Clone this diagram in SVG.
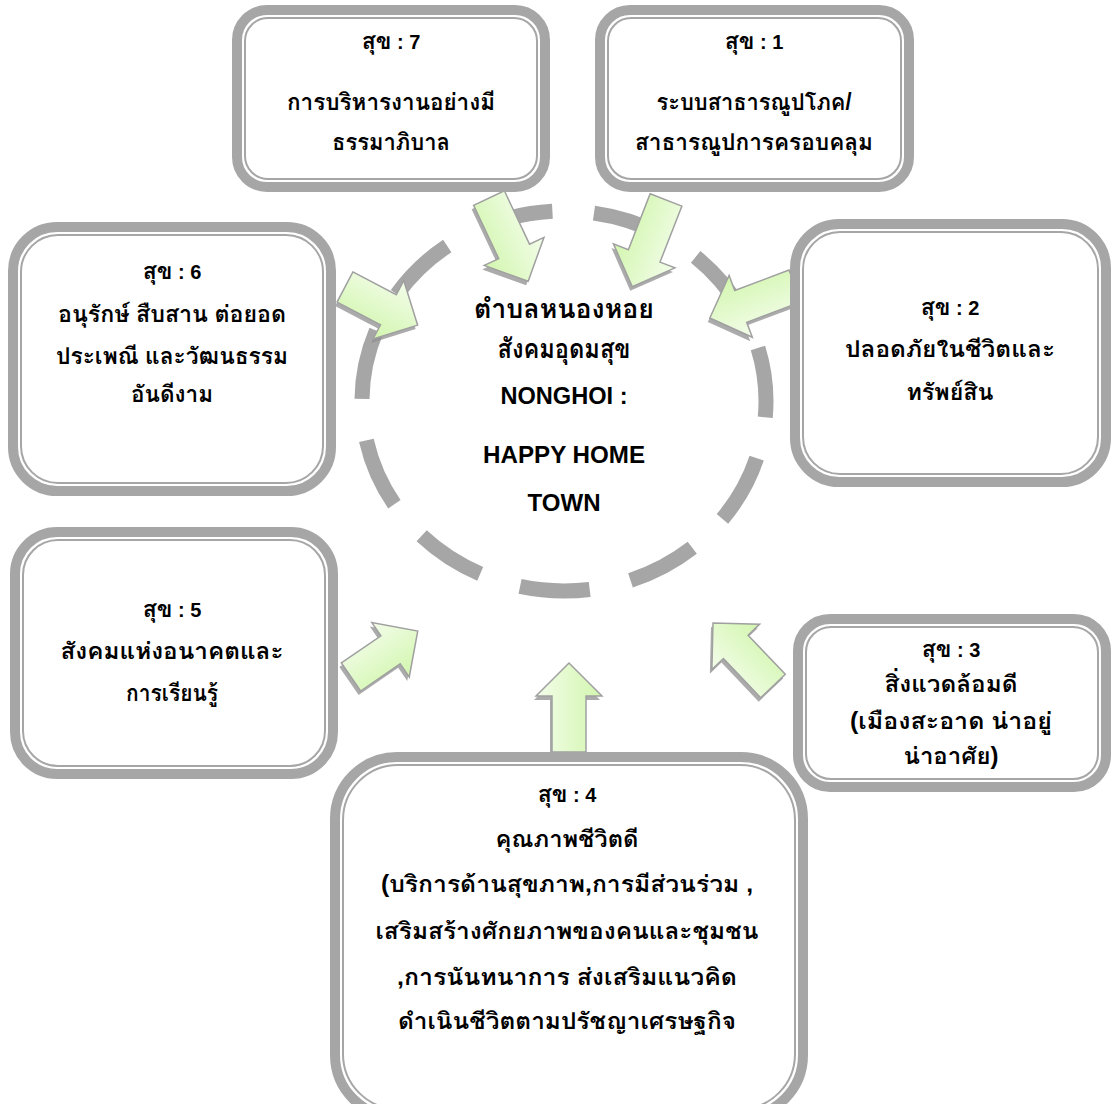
<svg xmlns="http://www.w3.org/2000/svg" width="1113" height="1104" viewBox="0 0 1113 1104">
<style>
.bo{fill:#fff;stroke:#a6a6a6;stroke-width:10}
.bi{fill:none;stroke:#a6a6a6;stroke-width:2}
.t{font-family:"Liberation Sans","Loma","Waree","Garuda","Noto Sans Thai Looped","Noto Sans Thai","Noto Sans",sans-serif;font-weight:bold;font-size:23px;text-anchor:middle;fill:#000}
.l{font-size:20px}
.c{font-size:27px}
.cl{font-size:24px}
.ar{fill:url(#gr);stroke:#a0a0a0;stroke-width:1.5;stroke-linejoin:miter}
.sh{fill:#8f8f8f;opacity:0.75}
.ring{fill:none;stroke:#a6a6a6;stroke-width:15;stroke-dasharray:20.5 12.227;stroke-dashoffset:15.73}
</style>
<defs>
<linearGradient id="gr" x1="0" y1="0" x2="0" y2="1">
<stop offset="0" stop-color="#f3fdea"/>
<stop offset="1" stop-color="#d2f6ae"/>
</linearGradient>
</defs>
<rect width="1113" height="1104" fill="#fff"/>
<path class="ring" pathLength="360" d="M766,401 A202,190 0 0 1 362,401 A202,190 0 0 1 766,401 Z"/>
<g id="connectors">
<g id="a7"><polygon class="sh" transform="translate(487,202) rotate(64.8)" points="0,-17 59,-17 59,-33 92,0 59,33 59,17 0,17"/><polygon class="ar" transform="translate(489,198) rotate(64.8)" points="0,-17 59,-17 59,-33 92,0 59,33 59,17 0,17"/></g>
<g id="a1"><polygon class="sh" transform="translate(664,204) rotate(111.3)" points="0,-17 60,-17 60,-33 93,0 60,33 60,17 0,17"/><polygon class="ar" transform="translate(666,200) rotate(111.3)" points="0,-17 60,-17 60,-33 93,0 60,33 60,17 0,17"/></g>
<g id="a2"><polygon class="sh" transform="translate(793,290) rotate(159.4)" points="0,-17 58,-17 58,-33 91,0 58,33 58,17 0,17"/><polygon class="ar" transform="translate(795,286) rotate(159.4)" points="0,-17 58,-17 58,-33 91,0 58,33 58,17 0,17"/></g>
<g id="a6"><polygon class="sh" transform="translate(343,291) rotate(27.7)" points="0,-17 49,-17 49,-33 82,0 49,33 49,17 0,17"/><polygon class="ar" transform="translate(345,287) rotate(27.7)" points="0,-17 49,-17 49,-33 82,0 49,33 49,17 0,17"/></g>
<g id="a5"><polygon class="sh" transform="translate(349,681) rotate(-34.5)" points="0,-17 48,-17 48,-33 81,0 48,33 48,17 0,17"/><polygon class="ar" transform="translate(351,677) rotate(-34.5)" points="0,-17 48,-17 48,-33 81,0 48,33 48,17 0,17"/></g>
<g id="a4"><polygon class="sh" transform="translate(567,756) rotate(-90)" points="0,-17 56,-17 56,-33 89,0 56,33 56,17 0,17"/><polygon class="ar" transform="translate(569,752) rotate(-90)" points="0,-17 56,-17 56,-33 89,0 56,33 56,17 0,17"/></g>
<g id="a3"><polygon class="sh" transform="translate(771,690) rotate(-133.6)" points="0,-17 54,-17 54,-33 87,0 54,33 54,17 0,17"/><polygon class="ar" transform="translate(773,686) rotate(-133.6)" points="0,-17 54,-17 54,-33 87,0 54,33 54,17 0,17"/></g>
</g>
<g id="center">
<text class="t c" x="564" y="318" textLength="180" lengthAdjust="spacingAndGlyphs">ตำบลหนองหอย</text>
<text class="t c" x="564" y="358" textLength="133" lengthAdjust="spacingAndGlyphs">สังคมอุดมสุข</text>
<text class="t cl" x="564" y="404" textLength="127" lengthAdjust="spacingAndGlyphs">NONGHOI :</text>
<text class="t cl" x="564" y="463" textLength="162" lengthAdjust="spacingAndGlyphs">HAPPY HOME</text>
<text class="t cl" x="564" y="511" textLength="73" lengthAdjust="spacingAndGlyphs">TOWN</text>
</g>
<g id="box7">
<rect class="bo" x="237" y="10" width="308" height="177" rx="30"/>
<rect class="bi" x="245" y="18" width="292" height="161" rx="23"/>
<text class="t" x="391" y="49">สุข<tspan class="l"> : 7</tspan></text>
<text class="t" x="391" y="110" textLength="208" lengthAdjust="spacingAndGlyphs">การบริหารงานอย่างมี</text>
<text class="t" x="391" y="150" textLength="118" lengthAdjust="spacingAndGlyphs">ธรรมาภิบาล</text>
</g>
<g id="box1">
<rect class="bo" x="600" y="10" width="309" height="177" rx="30"/>
<rect class="bi" x="608" y="18" width="293" height="161" rx="23"/>
<text class="t" x="754" y="49">สุข<tspan class="l"> : 1</tspan></text>
<text class="t" x="754" y="110" textLength="195" lengthAdjust="spacingAndGlyphs">ระบบสาธารณูปโภค/</text>
<text class="t" x="754" y="150" textLength="238" lengthAdjust="spacingAndGlyphs">สาธารณูปการครอบคลุม</text>
</g>
<g id="box6">
<rect class="bo" x="13" y="227" width="318" height="264" rx="44"/>
<rect class="bi" x="21" y="235" width="302" height="248" rx="37"/>
<text class="t" x="172" y="279">สุข<tspan class="l"> : 6</tspan></text>
<text class="t" x="172" y="322" textLength="228" lengthAdjust="spacingAndGlyphs">อนุรักษ์ สืบสาน ต่อยอด</text>
<text class="t" x="172" y="364" textLength="232" lengthAdjust="spacingAndGlyphs">ประเพณี และวัฒนธรรม</text>
<text class="t" x="172" y="402" textLength="82" lengthAdjust="spacingAndGlyphs">อันดีงาม</text>
</g>
<g id="box2">
<rect class="bo" x="795" y="224" width="311" height="258" rx="44"/>
<rect class="bi" x="803" y="232" width="295" height="242" rx="37"/>
<text class="t" x="950" y="315">สุข<tspan class="l"> : 2</tspan></text>
<text class="t" x="950" y="357" textLength="210" lengthAdjust="spacingAndGlyphs">ปลอดภัยในชีวิตและ</text>
<text class="t" x="950" y="400" textLength="87" lengthAdjust="spacingAndGlyphs">ทรัพย์สิน</text>
</g>
<g id="box5">
<rect class="bo" x="15" y="532" width="318" height="242" rx="42"/>
<rect class="bi" x="23" y="540" width="302" height="226" rx="35"/>
<text class="t" x="172" y="617">สุข<tspan class="l"> : 5</tspan></text>
<text class="t" x="172" y="659" textLength="223" lengthAdjust="spacingAndGlyphs">สังคมแห่งอนาคตและ</text>
<text class="t" x="172" y="701" textLength="92" lengthAdjust="spacingAndGlyphs">การเรียนรู้</text>
</g>
<g id="box3">
<rect class="bo" x="798" y="619" width="308" height="168" rx="32"/>
<rect class="bi" x="806" y="627" width="292" height="152" rx="25"/>
<text class="t" x="951" y="657">สุข<tspan class="l"> : 3</tspan></text>
<text class="t" x="951" y="692" textLength="133" lengthAdjust="spacingAndGlyphs">สิ่งแวดล้อมดี</text>
<text class="t" x="951" y="729" textLength="202" lengthAdjust="spacingAndGlyphs">(เมืองสะอาด น่าอยู่</text>
<text class="t" x="951" y="764" textLength="95" lengthAdjust="spacingAndGlyphs">น่าอาศัย)</text>
</g>
<g id="box4">
<rect class="bo" x="335" y="757" width="468" height="360" rx="62"/>
<rect class="bi" x="343" y="765" width="452" height="344" rx="55"/>
<text class="t" x="567" y="802">สุข<tspan class="l"> : 4</tspan></text>
<text class="t" x="567" y="847" textLength="143" lengthAdjust="spacingAndGlyphs">คุณภาพชีวิตดี</text>
<text class="t" x="567" y="892" textLength="372" lengthAdjust="spacingAndGlyphs">(บริการด้านสุขภาพ,การมีส่วนร่วม ,</text>
<text class="t" x="567" y="939" textLength="383" lengthAdjust="spacingAndGlyphs">เสริมสร้างศักยภาพของคนและชุมชน</text>
<text class="t" x="567" y="985" textLength="340" lengthAdjust="spacingAndGlyphs">,การนันทนาการ ส่งเสริมแนวคิด</text>
<text class="t" x="567" y="1029" textLength="338" lengthAdjust="spacingAndGlyphs">ดำเนินชีวิตตามปรัชญาเศรษฐกิจ</text>
</g>
</svg>
